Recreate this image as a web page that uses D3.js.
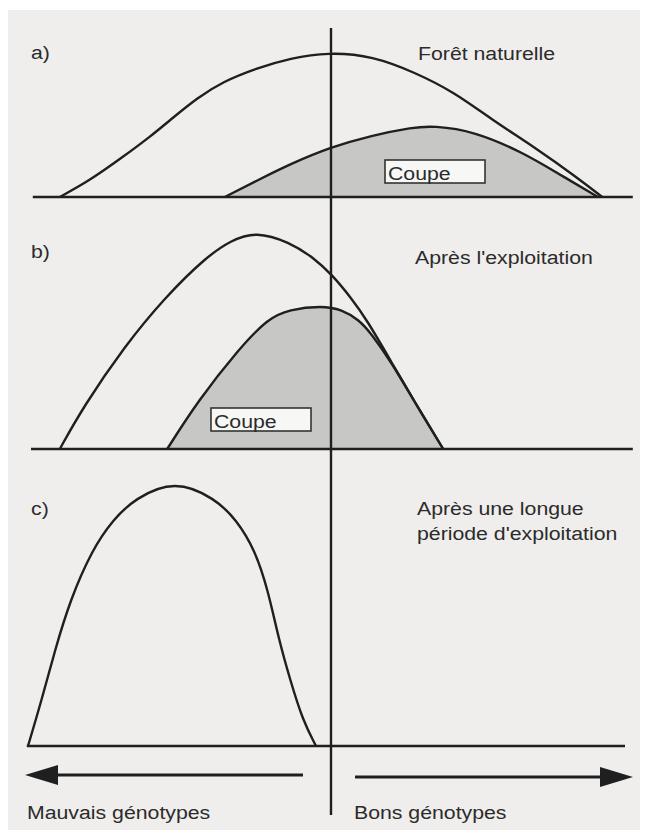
<!DOCTYPE html>
<html>
<head>
<meta charset="utf-8">
<script src="https://cdn.jsdelivr.net/npm/d3@7"></script>
<style>
  body { margin: 0; background: #fff; }
  text { font-family: "Liberation Sans", Arial, sans-serif; fill: #2b2b2b; }
</style>
</head>
<body>
<script>
// genotype position (0 = worst, 100 = best, 50 = divide) and relative frequency
const panels = ['a)', 'b)', 'c)']
const panelTitles = [['Forêt naturelle'], ["Après l'exploitation"], ['Après une longue', "période d'exploitation"]]

const natX = [4.8, 9.8, 15.3, 19.8, 23.7, 27.7, 32, 37.7, 43.2, 49.5, 57, 64, 70.5, 77, 84, 91, 95.2]
const natY = [0, 11, 26.7, 40, 53, 66, 77, 86, 92.5, 96.5, 94, 83, 70, 51, 33, 13, 0]
const cutAX = [32.3, 37.7, 43.2, 50, 56.7, 63.7, 67, 73.8, 82.2, 87.7, 94.5]
const cutAY = [0, 11, 22, 33.3, 41, 46.5, 47.5, 44, 29.3, 16, 0]

const afterX = [4.8, 8.7, 15.5, 22.3, 29.2, 33.3, 37.5, 43, 47.2, 50.2, 53.3, 56, 60.2, 63.7, 68.7]
const afterY = [0, 28, 68, 101, 128, 139, 145, 138, 127.3, 116, 101, 86, 57, 33, 0]
const cutBX = [22.7, 27.8, 34.7, 39.5, 43, 48.5, 51.8, 54.7, 56.7, 60.2, 63.7, 68.7]
const cutBY = [0, 32, 67, 87, 93, 95.5, 93, 86, 77, 57, 33, 0]

const longX = [-0.5, 1.8, 4, 6.5, 10.2, 13.7, 17.3, 24, 30.7, 34.2, 37.3, 39.5, 41.3, 43.2, 45.3, 47.5]
const longY = [0, 31, 64, 97, 131, 151, 165, 177.5, 165, 151, 131, 104, 71, 44, 17, 0]

const axisLabels = ['Mauvais génotypes', 'Bons génotypes']
const cutLabel = 'Coupe'

const W = 647, H = 838
const baselines = [197, 449, 746]
const ink = '#1f1f1f'
const fontSize = 19
const stretch = 1.12   // the scan is a little wider than tall

let x = d3.scaleLinear().domain([0, 100]).range([31, 631])
let h = d3.scaleLinear().domain([0, 100]).range([0, 150])

let svg = d3.select('body').append('svg')
            .attr('width', W)
            .attr('height', H)

// scanned page tone
svg.append('rect')
   .attr('x', 8).attr('y', 10)
   .attr('width', 632).attr('height', 820)
   .attr('fill', '#efeeec')

const zip = (xs, ys) => xs.map((v, i) => [v, ys[i]])

function curve(p, xs, ys, shaded) {
  let base = baselines[p]
  let line = d3.line().x(d => x(d[0])).y(d => base - h(d[1])).curve(d3.curveBasis)
  let area = d3.area().x(d => x(d[0])).y0(base).y1(d => base - h(d[1])).curve(d3.curveBasis)
  let pts = zip(xs, ys)
  if (shaded) {
    svg.append('path').attr('d', area(pts)).attr('fill', '#c7c7c6')
  }
  svg.append('path').attr('d', line(pts))
     .attr('fill', 'none').attr('stroke', ink).attr('stroke-width', 2.4)
}

function label(tx, ty, str) {
  svg.append('text')
     .attr('transform', `translate(${tx},${ty}) scale(${stretch},1)`)
     .attr('font-size', fontSize)
     .text(str)
}

curve(0, cutAX, cutAY, true)
curve(0, natX, natY, false)
curve(1, cutBX, cutBY, true)
curve(1, afterX, afterY, false)
curve(2, longX, longY, false)

// baselines
let baseEnds = [[0.3, 100.3], [0, 100.3], [-0.7, 99]]
baselines.forEach((b, i) => {
  svg.append('line')
     .attr('x1', x(baseEnds[i][0])).attr('x2', x(baseEnds[i][1]))
     .attr('y1', b).attr('y2', b)
     .attr('stroke', ink).attr('stroke-width', 2.6)
})

// divide between bad and good genotypes
svg.append('line')
   .attr('x1', x(50)).attr('x2', x(50))
   .attr('y1', 28).attr('y2', 815)
   .attr('stroke', ink).attr('stroke-width', 2.4)

// "Coupe" boxes
let cutBoxes = [[59, 0, 160], [30, 1, 408]]
cutBoxes.forEach(c => {
  let bx = x(c[0])
  svg.append('rect')
     .attr('x', bx).attr('y', c[2])
     .attr('width', 100).attr('height', 23)
     .attr('fill', '#f7f7f6').attr('stroke', '#333').attr('stroke-width', 1.6)
  label(bx + 3, c[2] + 20, cutLabel)
})

// panel letters and titles
let letterY = [59, 258, 515]
let titleY = [[60], [264], [515, 540]]
let titleX = [418, 415, 417]
panels.forEach((p, i) => {
  label(31, letterY[i], p)
  titleY[i].forEach((ty, j) => label(titleX[i], ty, panelTitles[i][j]))
})

// direction arrows
let arrowY = [775, 777]
svg.append('line').attr('x1', 50).attr('x2', 303).attr('y1', arrowY[0]).attr('y2', arrowY[0])
   .attr('stroke', ink).attr('stroke-width', 3)
svg.append('path').attr('d', `M25,${arrowY[0]} L58,${arrowY[0] - 10} L58,${arrowY[0] + 10} Z`).attr('fill', ink)
svg.append('line').attr('x1', 355).attr('x2', 608).attr('y1', arrowY[1]).attr('y2', arrowY[1])
   .attr('stroke', ink).attr('stroke-width', 3)
svg.append('path').attr('d', `M633,${arrowY[1]} L600,${arrowY[1] - 10} L600,${arrowY[1] + 10} Z`).attr('fill', ink)

label(27, 819, axisLabels[0])
label(354, 819, axisLabels[1])
</script>
</body>
</html>
